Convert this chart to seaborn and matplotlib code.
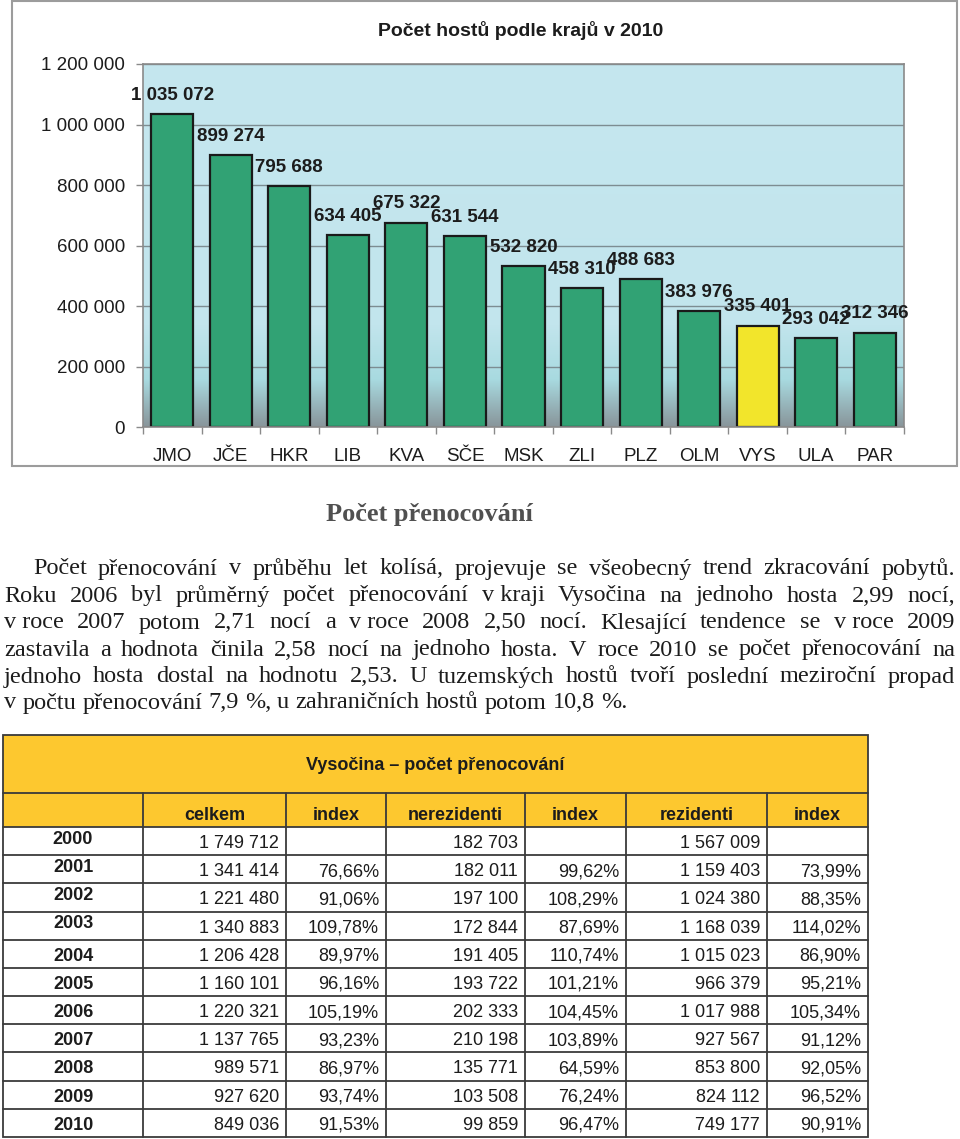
import numpy as np
import matplotlib
matplotlib.use("Agg")
import matplotlib.pyplot as plt
import seaborn as sns
from matplotlib.patches import Rectangle
from matplotlib.lines import Line2D

# ---------------- data ----------------
regions = ["JMO", "JČE", "HKR", "LIB", "KVA", "SČE", "MSK", "ZLI", "PLZ", "OLM", "VYS", "ULA", "PAR"]
guests = [1035072, 899274, 795688, 634405, 675322, 631544, 532820, 458310, 488683, 383976, 335401, 293042, 312346]
highlight = "VYS"
y_ticks = [0, 200000, 400000, 600000, 800000, 1000000, 1200000]
chart_title = "Počet hostů podle krajů v 2010"

section_title = "Počet přenocování"
paragraph_lines = [
    "Počet přenocování v průběhu let kolísá, projevuje se všeobecný trend zkracování pobytů.",
    "Roku 2006 byl průměrný počet přenocování v\u00a0kraji Vysočina na jednoho hosta 2,99 nocí,",
    "v\u00a0roce 2007 potom 2,71 nocí a v\u00a0roce 2008 2,50 nocí. Klesající tendence se v\u00a0roce 2009",
    "zastavila a hodnota činila 2,58 nocí na jednoho hosta. V roce 2010 se počet přenocování na",
    "jednoho hosta dostal na hodnotu 2,53. U tuzemských hostů tvoří poslední meziroční propad",
    "v počtu přenocování 7,9 %, u zahraničních hostů potom 10,8 %.",
]

table_title = "Vysočina – počet přenocování"
table_columns = ["celkem", "index", "nerezidenti", "index", "rezidenti", "index"]
years = [2000, 2001, 2002, 2003, 2004, 2005, 2006, 2007, 2008, 2009, 2010]
total = [1749712, 1341414, 1221480, 1340883, 1206428, 1160101, 1220321, 1137765, 989571, 927620, 849036]
total_index = [None, 76.66, 91.06, 109.78, 89.97, 96.16, 105.19, 93.23, 86.97, 93.74, 91.53]
nonres = [182703, 182011, 197100, 172844, 191405, 193722, 202333, 210198, 135771, 103508, 99859]
nonres_index = [None, 99.62, 108.29, 87.69, 110.74, 101.21, 104.45, 103.89, 64.59, 76.24, 96.47]
res = [1567009, 1159403, 1024380, 1168039, 1015023, 966379, 1017988, 927567, 853800, 824112, 749177]
res_index = [None, 73.99, 88.35, 114.02, 86.90, 95.21, 105.34, 91.12, 92.05, 96.52, 90.91]


def fmt_num(v):
    return f"{v:,}".replace(",", " ")


def fmt_idx(v):
    return "" if v is None else f"{v:.2f}".replace(".", ",") + "%"


# ---------------- style ----------------
sns.set_style("white")
plt.rcParams["font.family"] = ["Liberation Sans", "DejaVu Sans"]

GREEN = "#31a274"
YELLOW = "#f2e52b"
GRID = "#7d8d92"
SPINE = "#8a8a8a"
TEXT = "#1c1c1c"
TAB_YELLOW = "#fdc82f"
TAB_LINE = "#3a3a3a"

W, H = 960, 1139
fig = plt.figure(figsize=(W / 100, H / 100), dpi=100)
fig.patch.set_facecolor("white")

# ---------------- bar chart ----------------
ax_l, ax_r, ax_t, ax_b = 143, 904, 64, 427
ax = fig.add_axes([ax_l / W, 1 - ax_b / H, (ax_r - ax_l) / W, (ax_b - ax_t) / H])

# background gradient
stops = [0.0, 0.72, 0.87, 1.0]
cols = np.array([
    [0xc5, 0xe7, 0xef],
    [0xc2, 0xe5, 0xed],
    [0xa8, 0xda, 0xe0],
    [0x88, 0x95, 0x9a],
]) / 255.0
t = np.linspace(0, 1, 400)
grad = np.stack([np.interp(t, stops, cols[:, c]) for c in range(3)], axis=1)[:, None, :]
ax.imshow(grad, extent=(-0.5, len(regions) - 0.5, 0, y_ticks[-1]), aspect="auto",
          origin="upper", zorder=-2, interpolation="bilinear")

palette = {r: (YELLOW if r == highlight else GREEN) for r in regions}
sns.barplot(x=regions, y=guests, hue=regions, palette=palette, legend=False,
            width=0.72, edgecolor="#1a1a1a", linewidth=1.6, saturation=1, ax=ax, zorder=2)

ax.set_xlim(-0.5, len(regions) - 0.5)
ax.set_ylim(0, y_ticks[-1])
ax.set_yticks(y_ticks)
ax.set_yticklabels([fmt_num(v) for v in y_ticks])
ax.set_axisbelow(True)
ax.yaxis.grid(True, color=GRID, linewidth=1.0)
ax.xaxis.grid(False)
for s in ax.spines.values():
    s.set_color(SPINE)
    s.set_linewidth(1.2)
ax.tick_params(axis="y", length=5, width=1, color=SPINE, pad=8, labelsize=13.5, labelcolor=TEXT, left=True)
ax.tick_params(axis="x", which="major", length=0, pad=15, labelsize=13.5, labelcolor=TEXT)
ax.set_xticks(np.arange(-0.5, len(regions), 1.0), minor=True)
ax.tick_params(axis="x", which="minor", length=5, width=1, color=SPINE, direction="out", bottom=True)
ax.set_xlabel("")
ax.set_ylabel("")

for i, v in enumerate(guests):
    ax.annotate(fmt_num(v), (i, v), xytext=(0, 13.5), textcoords="offset points",
                ha="center", va="center", fontsize=13.5, fontweight="bold", color=TEXT, zorder=5)

# ---------------- overlay in pixel coordinates ----------------
ov = fig.add_axes([0, 0, 1, 1])
ov.set_xlim(0, W)
ov.set_ylim(H, 0)
ov.axis("off")
ov.patch.set_alpha(0)

# chart frame and title
ov.add_patch(Rectangle((12, 1), 945, 465, fill=False, edgecolor="#9c9c9c", linewidth=1.5))
ov.text(521, 30, chart_title, ha="center", va="center", fontsize=14, fontweight="bold", color=TEXT)

# section heading
SERIF = ["Liberation Serif", "DejaVu Serif"]
ov.text(429, 515, section_title, ha="center", va="center", fontsize=19, fontweight="bold",
        color="#505050", family=SERIF)

# justified paragraph
renderer = fig.canvas.get_renderer()
line_y = [569, 596, 623, 650, 677, 703]
para_kw = dict(fontsize=17.5, family=SERIF, color=TEXT, va="center", ha="left")
right_edge = 955


def text_width(s):
    tx = ov.text(0, 0, s, **para_kw)
    w = tx.get_window_extent(renderer).width
    tx.remove()
    return w


space_w = text_width("a a") - text_width("aa")
for k, (line, y) in enumerate(zip(paragraph_lines, line_y)):
    x0 = 33 if k == 0 else 4
    words = line.split(" ")
    texts = [ov.text(0, y, w, **para_kw) for w in words]
    widths = [tx.get_window_extent(renderer).width for tx in texts]
    if k < len(paragraph_lines) - 1:
        gap = (right_edge - x0 - sum(widths)) / (len(words) - 1)
    else:
        gap = space_w
    x = x0
    for tx, w in zip(texts, widths):
        tx.set_x(x)
        x += w + gap

# ---------------- table ----------------
col_x = [3, 143, 286, 386, 525, 626, 767, 868]
t_top, t_title_bot, t_head_bot = 735, 793, 827
row_h = (1137 - t_head_bot) / len(years)

ov.add_patch(Rectangle((col_x[0], t_top), col_x[-1] - col_x[0], t_head_bot - t_top,
                       facecolor=TAB_YELLOW, edgecolor="none", zorder=1))
ov.text((col_x[0] + col_x[-1]) / 2, 765, table_title, ha="center", va="center",
        fontsize=13, fontweight="bold", color=TEXT, zorder=3)
for j, name in enumerate(table_columns):
    ov.text((col_x[j + 1] + col_x[j + 2]) / 2, 816, name, ha="center", va="center",
            fontsize=13, fontweight="bold", color=TEXT, zorder=3)

columns_data = [
    [fmt_num(v) for v in total],
    [fmt_idx(v) for v in total_index],
    [fmt_num(v) for v in nonres],
    [fmt_idx(v) for v in nonres_index],
    [fmt_num(v) for v in res],
    [fmt_idx(v) for v in res_index],
]
for r, yr in enumerate(years):
    top = t_head_bot + r * row_h
    y_year = top + (12 if r < 4 else 16.5)
    ov.text((col_x[0] + col_x[1]) / 2, y_year, str(yr), ha="center", va="center",
            fontsize=13, fontweight="bold", color=TEXT, zorder=3)
    for j, colvals in enumerate(columns_data):
        ov.text(col_x[j + 2] - 7, top + 16.5, colvals[r], ha="right", va="center",
                fontsize=13, color=TEXT, zorder=3)

lw = 1.3
bottom = t_head_bot + len(years) * row_h
ov.add_patch(Rectangle((col_x[0], t_top), col_x[-1] - col_x[0], bottom - t_top,
                       fill=False, edgecolor=TAB_LINE, linewidth=lw, zorder=4))
for yy in [t_title_bot, t_head_bot] + [t_head_bot + r * row_h for r in range(1, len(years))]:
    ov.add_line(Line2D([col_x[0], col_x[-1]], [yy, yy], color=TAB_LINE, linewidth=lw, zorder=4))
for xx in col_x[1:-1]:
    ov.add_line(Line2D([xx, xx], [t_title_bot, bottom], color=TAB_LINE, linewidth=lw, zorder=4))

fig.savefig("out.png", dpi=100, facecolor="white")
